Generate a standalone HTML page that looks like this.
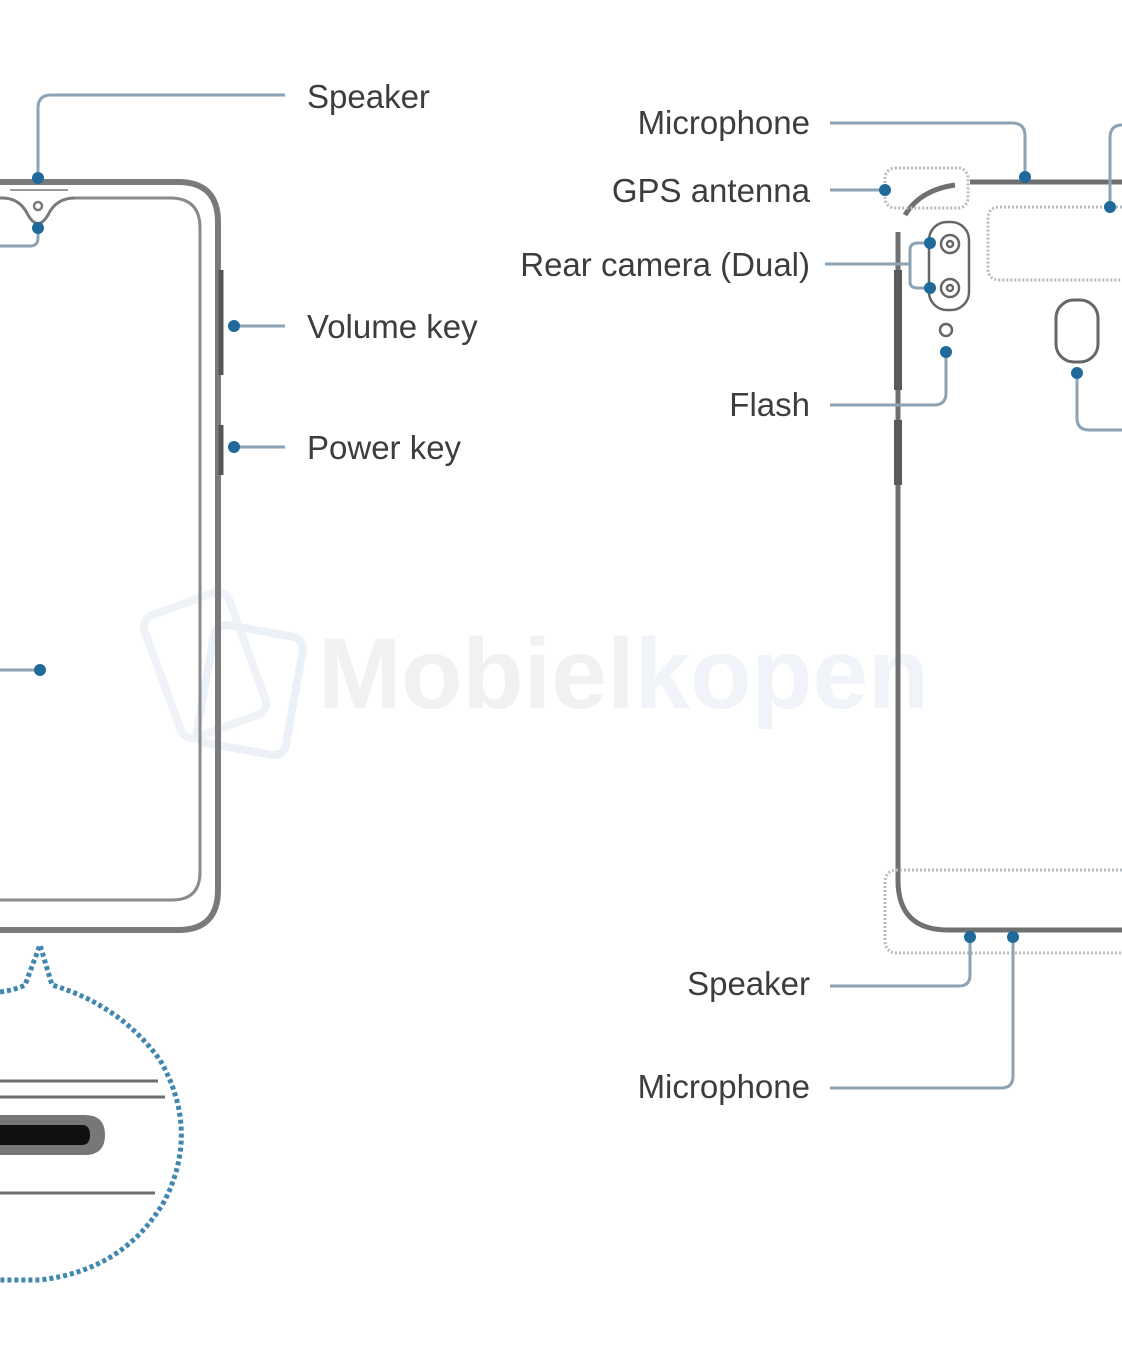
<!DOCTYPE html>
<html><head><meta charset="utf-8"><style>
html,body{margin:0;padding:0;background:#fff;}
svg{display:block}
text{font-family:"Liberation Sans",sans-serif;fill:#3d3d3d;font-size:33px;letter-spacing:0}
</style></head><body>
<svg width="1122" height="1345" viewBox="0 0 1122 1345" xmlns="http://www.w3.org/2000/svg">
<!-- watermark -->
<g opacity="0.5">
<rect x="160" y="600" width="90" height="130" rx="12" fill="none" stroke="#dfe6ee" stroke-width="8" transform="rotate(-20 205 665)"/>
<rect x="205" y="630" width="90" height="120" rx="12" fill="none" stroke="#d6e2ee" stroke-width="8" transform="rotate(10 250 690)"/>
<text x="318" y="708" style="font-size:100px;fill:#e2e3e4;font-weight:bold;letter-spacing:0">Mobiel<tspan style="fill:#e0e6ee">kopen</tspan></text>
</g>
<!-- LEFT PHONE -->
<g fill="none" stroke="#7a7a7a">
<path d="M0 182 H178 Q218 182 218 222 V890 Q218 930 178 930 H0" stroke-width="6"/>
<path d="M75 198 H170 Q200 198 200 228 V872 Q200 900 172 900 H0" stroke-width="3" stroke="#8a8a8a"/>
<path d="M0 198 H2 Q20 198 28 215 Q38 232 48 215 Q56 198 75 198" stroke-width="3"/>
<line x1="10" y1="190" x2="68" y2="190" stroke-width="2" stroke="#999"/>
<circle cx="38" cy="206" r="4" stroke-width="2.5"/>
<line x1="221" y1="270" x2="221" y2="375" stroke-width="5" stroke="#555"/>
<line x1="221" y1="425" x2="221" y2="475" stroke-width="5" stroke="#555"/>
</g>
<g fill="none" stroke="#8ba3b5" stroke-width="3">
<path d="M38 178 V108 Q38 95 51 95 H285"/>
<path d="M38 228 V238 Q38 246 30 246 H0"/>
<path d="M234 326 H285"/>
<path d="M234 447 H285"/>
<path d="M0 670 H40"/>
</g>
<g fill="#1f6a9a">
<circle cx="38" cy="178" r="6"/><circle cx="38" cy="228" r="6"/>
<circle cx="234" cy="326" r="6"/><circle cx="234" cy="447" r="6"/>
<circle cx="40" cy="670" r="6"/>
</g>
<text x="307" y="108">Speaker</text>
<text x="307" y="338">Volume key</text>
<text x="307" y="459">Power key</text>
<!-- bubble -->
<path d="M0 992 Q15 990 25 985 L40 945 L52 985 Q120 1005 160 1060 Q200 1130 165 1200 Q125 1270 40 1280 L0 1280" fill="none" stroke="#3f86b0" stroke-width="5" stroke-dasharray="4 3"/>
<g stroke="#6e6e6e" stroke-width="3">
<line x1="0" y1="1081" x2="158" y2="1081"/>
<line x1="0" y1="1097" x2="165" y2="1097"/>
<line x1="0" y1="1193" x2="155" y2="1193"/>
</g>
<path d="M0 1115 H85 Q105 1115 105 1135 Q105 1155 85 1155 H0 Z" fill="#777"/>
<path d="M0 1125 H82 Q90 1125 90 1135 Q90 1145 82 1145 H0 Z" fill="#111"/>
<!-- RIGHT PHONE -->
<g fill="none" stroke="#707070" stroke-width="5">
<path d="M898 232 V880 Q898 930 948 930 H1122"/>
<path d="M905 215 Q920 190 955 185"/>
<line x1="970" y1="182" x2="1122" y2="182"/>
<line x1="898" y1="270" x2="898" y2="390" stroke-width="8" stroke="#5a5a5a"/>
<line x1="898" y1="420" x2="898" y2="485" stroke-width="8" stroke="#5a5a5a"/>
</g>
<g fill="none" stroke="#666" stroke-width="2.5">
<rect x="929" y="222" width="40" height="88" rx="18"/>
<circle cx="950" cy="244" r="9"/><circle cx="950" cy="244" r="3"/>
<circle cx="950" cy="288" r="9"/><circle cx="950" cy="288" r="3"/>
<circle cx="946" cy="330" r="6"/>
<rect x="1056" y="300" width="42" height="62" rx="18" stroke-width="3"/>
</g>
<g fill="none" stroke="#b5bcc2" stroke-width="3" stroke-dasharray="2 2">
<rect x="885" y="168" width="83" height="40" rx="10"/>
<path d="M1122 207 H1000 Q988 207 988 219 V268 Q988 280 1000 280 H1122"/>
<path d="M1122 870 H898 Q885 870 885 883 V940 Q885 953 898 953 H1122"/>
</g>
<g fill="none" stroke="#8ba3b5" stroke-width="3">
<path d="M830 123 H1012 Q1025 123 1025 136 V177"/>
<path d="M1110 207 V138 Q1110 125 1122 125"/>
<path d="M830 190 H885"/>
<path d="M825 264 H910 M910 250 V282 M910 250 Q910 243 918 243 H930 M910 282 Q910 288 918 288 H930"/>
<path d="M946 352 V393 Q946 405 934 405 H830"/>
<path d="M1077 373 V418 Q1077 430 1089 430 H1122"/>
<path d="M970 937 V975 Q970 986 959 986 H830"/>
<path d="M1013 937 V1076 Q1013 1088 1001 1088 H830"/>
</g>
<g fill="#1f6a9a">
<circle cx="1025" cy="177" r="6"/><circle cx="1110" cy="207" r="6"/>
<circle cx="885" cy="190" r="6"/>
<circle cx="930" cy="243" r="6"/><circle cx="930" cy="288" r="6"/>
<circle cx="946" cy="352" r="6"/><circle cx="1077" cy="373" r="6"/>
<circle cx="970" cy="937" r="6"/><circle cx="1013" cy="937" r="6"/>
</g>
<g text-anchor="end">
<text x="810" y="134">Microphone</text>
<text x="810" y="202">GPS antenna</text>
<text x="810" y="276">Rear camera (Dual)</text>
<text x="810" y="416">Flash</text>
<text x="810" y="995">Speaker</text>
<text x="810" y="1098">Microphone</text>
</g>
</svg>
</body></html>
